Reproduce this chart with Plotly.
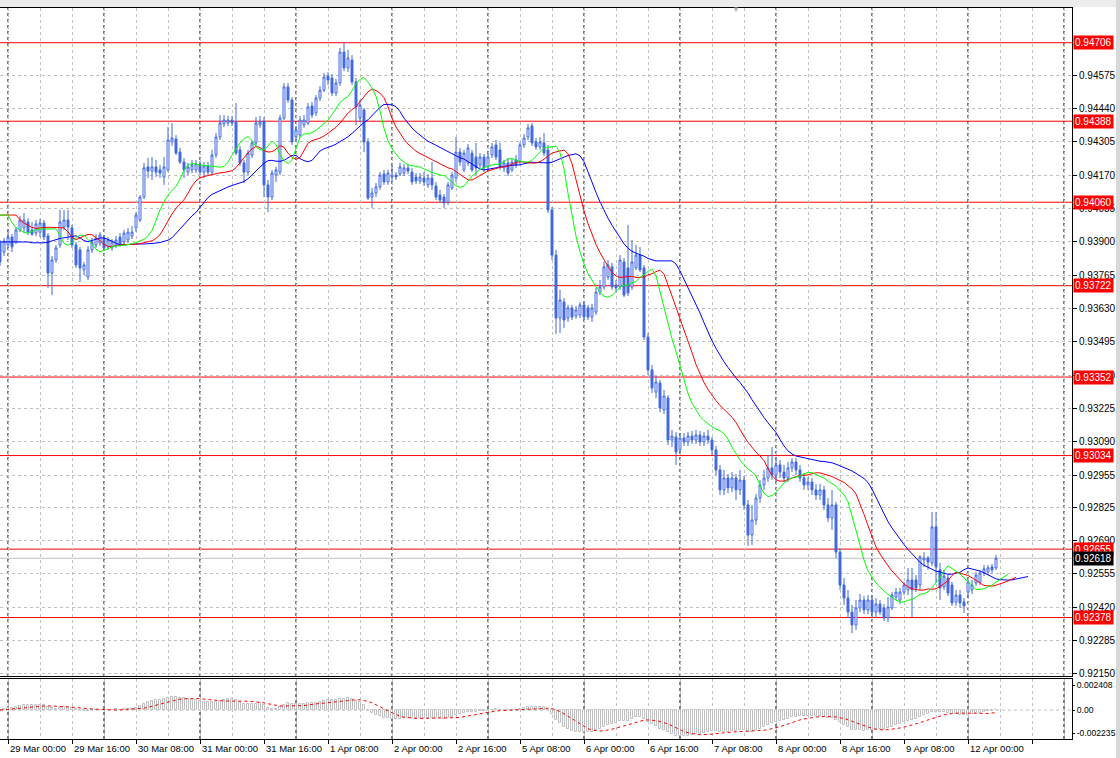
import pandas as pd
import plotly.graph_objects as go

# ---------------- data (H1 bars, prices in points of 0.00001) ----------------
POINT = 0.00001
pre_session = ["2021-03-28 22:00", "2021-03-28 23:00"]
session_days = ["2021-03-29", "2021-03-30", "2021-03-31", "2021-04-01", "2021-04-02",
                "2021-04-05", "2021-04-06", "2021-04-07", "2021-04-08", "2021-04-09",
                "2021-04-12", "2021-04-13"]
first_index = -2          # bar index of the first bar (0 = 29 Mar 00:00)

open_pts = [
    93895, 93858, 93887, 93919, 93899, 93948, 93956, 93980, 93948, 93935,
    93939, 93976, 93923, 93773, 93826, 93887, 93960, 93988, 93956, 93887,
    93867, 93786, 93757, 93867, 93887, 93895, 93915, 93879, 93875, 93887,
    93919, 93899, 93907, 93923, 93956, 93988, 94081, 94203, 94186, 94203,
    94191, 94162, 94191, 94304, 94316, 94263, 94223, 94182, 94191, 94191,
    94211, 94182, 94207, 94182, 94251, 94324, 94377, 94381, 94393, 94385,
    94272, 94219, 94182, 94251, 94300, 94373, 94389, 94130, 94081, 94170,
    94182, 94401, 94527, 94474, 94324, 94332, 94373, 94381, 94450, 94421,
    94482, 94514, 94571, 94563, 94502, 94543, 94668, 94604, 94636, 94547,
    94401, 94434, 94304, 94081, 94097, 94122, 94174, 94142, 94162, 94170,
    94174, 94178, 94199, 94182, 94162, 94146, 94158, 94130, 94158, 94126,
    94089, 94081, 94061, 94118, 94158, 94263, 94191, 94219, 94259, 94243,
    94211, 94243, 94203, 94251, 94292, 94272, 94199, 94219, 94191, 94231,
    94223, 94292, 94324, 94369, 94304, 94284, 94300, 94272, 94029, 93846,
    93591, 93656, 93591, 93632, 93599, 93603, 93644, 93632, 93595, 93615,
    93696, 93717, 93757, 93798, 93725, 93717, 93818, 93794, 93717, 93794,
    93846, 93794, 93514, 93381, 93291, 93328, 93219, 93267, 93097, 93109,
    93057, 93105, 93089, 93113, 93097, 93117, 93089, 93113, 93097, 93057,
    92976, 92895, 92943, 92903, 92943, 92895, 92935, 92834, 92712, 92773,
    92862, 92915, 92943, 92984, 92955, 92996, 92967, 92943, 92984, 93008,
    92976, 92943, 92915, 92927, 92895, 92874, 92895, 92834, 92781, 92834,
    92643, 92510, 92457, 92400, 92348, 92417, 92449, 92409, 92449, 92400,
    92433, 92417, 92376, 92417, 92461, 92449, 92481, 92490, 92530, 92530,
    92510, 92611, 92619, 92599, 92745, 92571, 92502, 92538, 92510, 92441,
    92469, 92441, 92481, 92490, 92518, 92522, 92558, 92562, 92583, 92579,
]
high_pts = [
    93907, 93915, 93948, 93931, 93960, 94004, 94016, 93996, 93980, 93988,
    93992, 93988, 93935, 93842, 93887, 94029, 94029, 94029, 93968, 93899,
    93879, 93818, 93883, 93915, 93931, 93939, 93927, 93919, 93911, 93923,
    93935, 93948, 93956, 93964, 94020, 94089, 94219, 94239, 94243, 94231,
    94211, 94243, 94365, 94381, 94332, 94280, 94239, 94219, 94231, 94231,
    94227, 94223, 94223, 94272, 94340, 94413, 94413, 94409, 94409, 94462,
    94288, 94231, 94272, 94312, 94405, 94409, 94405, 94150, 94191, 94203,
    94413, 94543, 94543, 94486, 94369, 94409, 94413, 94462, 94466, 94494,
    94531, 94583, 94587, 94579, 94559, 94685, 94709, 94677, 94656, 94563,
    94474, 94442, 94320, 94118, 94138, 94182, 94191, 94191, 94211, 94182,
    94219, 94215, 94215, 94199, 94178, 94178, 94182, 94174, 94223, 94142,
    94110, 94093, 94142, 94182, 94324, 94280, 94272, 94296, 94272, 94300,
    94259, 94255, 94259, 94300, 94312, 94300, 94231, 94239, 94239, 94251,
    94304, 94336, 94377, 94381, 94320, 94324, 94340, 94292, 94041, 93867,
    93705, 93672, 93644, 93644, 93640, 93656, 93656, 93644, 93648, 93713,
    93745, 93818, 93826, 93814, 93745, 93846, 93834, 93968, 93907, 93887,
    93879, 93806, 93530, 93401, 93356, 93340, 93300, 93279, 93138, 93129,
    93125, 93125, 93129, 93134, 93138, 93134, 93129, 93138, 93109, 93073,
    92996, 92976, 92959, 92967, 92959, 92976, 92951, 92854, 92834, 92878,
    92935, 92976, 93036, 93069, 93024, 93016, 92996, 93008, 93024, 93024,
    92996, 92963, 92947, 92943, 92919, 92919, 92911, 92862, 92895, 92846,
    92660, 92538, 92490, 92429, 92449, 92473, 92465, 92469, 92465, 92457,
    92449, 92433, 92461, 92481, 92498, 92498, 92522, 92579, 92579, 92550,
    92631, 92643, 92627, 92805, 92805, 92599, 92571, 92550, 92522, 92490,
    92490, 92457, 92530, 92530, 92562, 92571, 92591, 92591, 92595, 92631,
]
low_pts = [
    93802, 93842, 93875, 93858, 93891, 93939, 93935, 93927, 93923, 93923,
    93919, 93907, 93713, 93684, 93814, 93875, 93948, 93907, 93875, 93794,
    93737, 93765, 93745, 93854, 93875, 93883, 93867, 93867, 93863, 93875,
    93879, 93887, 93895, 93911, 93939, 93980, 94073, 94158, 94150, 94162,
    94158, 94130, 94182, 94288, 94251, 94215, 94158, 94170, 94178, 94178,
    94170, 94158, 94170, 94170, 94239, 94312, 94365, 94369, 94369, 94251,
    94207, 94138, 94170, 94239, 94288, 94361, 94081, 94020, 94069, 94142,
    94170, 94393, 94462, 94292, 94304, 94320, 94361, 94373, 94401, 94409,
    94470, 94506, 94535, 94490, 94490, 94531, 94591, 94587, 94535, 94373,
    94385, 94263, 94069, 94037, 94081, 94110, 94130, 94130, 94142, 94150,
    94166, 94166, 94174, 94130, 94134, 94134, 94126, 94118, 94110, 94069,
    94057, 94037, 94049, 94110, 94142, 94207, 94182, 94207, 94182, 94170,
    94199, 94182, 94191, 94239, 94231, 94191, 94182, 94166, 94182, 94199,
    94211, 94280, 94312, 94288, 94272, 94272, 94247, 94016, 93826, 93526,
    93530, 93551, 93575, 93583, 93587, 93591, 93583, 93583, 93575, 93603,
    93684, 93705, 93745, 93705, 93696, 93705, 93676, 93680, 93705, 93786,
    93777, 93502, 93360, 93287, 93267, 93210, 93202, 93077, 93069, 92996,
    93044, 93073, 93073, 93081, 93081, 93073, 93073, 93081, 93036, 92955,
    92874, 92874, 92882, 92886, 92854, 92874, 92814, 92668, 92672, 92753,
    92842, 92895, 92927, 92935, 92927, 92943, 92927, 92927, 92967, 92955,
    92927, 92895, 92895, 92874, 92854, 92854, 92814, 92765, 92733, 92619,
    92490, 92429, 92376, 92315, 92328, 92400, 92392, 92392, 92376, 92376,
    92388, 92364, 92360, 92409, 92449, 92433, 92469, 92469, 92380, 92481,
    92490, 92583, 92571, 92587, 92518, 92449, 92490, 92465, 92425, 92425,
    92417, 92396, 92457, 92473, 92506, 92510, 92546, 92550, 92558, 92571,
]
close_pts = [
    93818, 93903, 93919, 93879, 93948, 93988, 93988, 93939, 93931, 93972,
    93976, 93919, 93773, 93826, 93875, 93980, 93988, 93960, 93887, 93806,
    93794, 93806, 93867, 93899, 93915, 93927, 93875, 93907, 93899, 93907,
    93887, 93935, 93939, 93939, 94008, 94081, 94199, 94186, 94203, 94182,
    94178, 94203, 94312, 94320, 94259, 94223, 94191, 94203, 94211, 94215,
    94182, 94207, 94182, 94251, 94324, 94381, 94393, 94393, 94381, 94259,
    94219, 94182, 94259, 94300, 94381, 94385, 94130, 94081, 94178, 94191,
    94401, 94527, 94474, 94304, 94353, 94393, 94393, 94446, 94413, 94482,
    94514, 94567, 94555, 94502, 94543, 94668, 94604, 94644, 94547, 94446,
    94454, 94304, 94077, 94097, 94122, 94170, 94142, 94178, 94170, 94162,
    94203, 94199, 94186, 94142, 94146, 94162, 94142, 94158, 94130, 94081,
    94069, 94057, 94130, 94170, 94263, 94223, 94259, 94280, 94191, 94199,
    94243, 94199, 94243, 94284, 94243, 94203, 94219, 94178, 94223, 94211,
    94292, 94320, 94361, 94300, 94284, 94304, 94259, 94029, 93846, 93591,
    93664, 93583, 93632, 93595, 93624, 93644, 93595, 93595, 93632, 93696,
    93717, 93798, 93806, 93717, 93713, 93826, 93684, 93692, 93818, 93846,
    93786, 93514, 93381, 93308, 93332, 93227, 93275, 93097, 93113, 93048,
    93105, 93089, 93113, 93097, 93117, 93089, 93113, 93097, 93057, 92976,
    92895, 92943, 92903, 92943, 92895, 92935, 92834, 92712, 92773, 92862,
    92915, 92943, 92984, 92955, 92996, 92967, 92943, 92984, 93008, 92976,
    92943, 92915, 92927, 92895, 92874, 92895, 92834, 92781, 92834, 92643,
    92510, 92457, 92400, 92348, 92417, 92449, 92409, 92449, 92400, 92433,
    92400, 92376, 92421, 92469, 92481, 92481, 92510, 92530, 92490, 92498,
    92623, 92619, 92603, 92745, 92583, 92498, 92546, 92477, 92437, 92469,
    92437, 92425, 92522, 92510, 92550, 92558, 92575, 92579, 92571, 92618,
]

# horizontal levels drawn on the chart
level_prices = [0.94706, 0.94388, 0.94060, 0.93722, 0.93352, 0.93034, 0.92655, 0.92378]
bid_price = 0.92618

# Alligator start values read at the left edge (jaw, teeth, lips)
jaw_start, teeth_start, lips_start = 0.93899, 0.94008, 0.94008

# price-axis labels
price_ticks = ["0.94575", "0.94440", "0.94305", "0.94170", "0.94035", "0.93900", "0.93765",
               "0.93630", "0.93495", "0.93360", "0.93225", "0.93090", "0.92955", "0.92825",
               "0.92690", "0.92555", "0.92420", "0.92285", "0.92150"]
macd_max, macd_min = 0.002408, -0.002235
macd_labels = ["0.002408", "0.00", "-0.002235"]

# ---------------- derived series ----------------
n = min(len(open_pts), len(high_pts), len(low_pts), len(close_pts))
O = [v * POINT for v in open_pts[:n]]
H = [v * POINT for v in high_pts[:n]]
L = [v * POINT for v in low_pts[:n]]
C = [v * POINT for v in close_pts[:n]]
idx = list(range(first_index, first_index + n))

bar_times = pd.to_datetime(pre_session + [f"{d} {h:02d}:00" for d in session_days for h in range(24)])
def time_of(i):
    return bar_times[i - first_index]

median = [(h + l) / 2 for h, l in zip(H, L)]

def smma(values, period, start):
    out, prev = [], start
    for v in values:
        prev = (prev * (period - 1) + v) / period
        out.append(prev)
    return out

def shifted(values, shift, start):
    xs = [first_index + k for k in range(shift)] + [i + shift for i in idx]
    ys = [start] * shift + values
    return xs, ys

jaw_x, jaw_y = shifted(smma(median, 13, jaw_start), 8, jaw_start)
teeth_x, teeth_y = shifted(smma(median, 8, teeth_start), 5, teeth_start)
lips_x, lips_y = shifted(smma(median, 5, lips_start), 3, lips_start)

cs = pd.Series(C)
macd = (cs.ewm(span=12, adjust=False).mean() - cs.ewm(span=26, adjust=False).mean())
signal = macd.rolling(9, min_periods=1).mean()

# ---------------- figure ----------------
BLUE = "#4169E1"
GRID = "#C0C0C0"
FAMILY = "Liberation Sans, Arial, sans-serif"
PRICE_FONT = dict(family=FAMILY, size=10, color="black")
MACD_FONT = dict(family=FAMILY, size=8.6, color="black")

fig = go.Figure()
fig.add_trace(go.Candlestick(
    x=idx, open=O, high=H, low=L, close=C,
    increasing=dict(line=dict(color=BLUE, width=1), fillcolor="white"),
    decreasing=dict(line=dict(color=BLUE, width=1), fillcolor=BLUE),
    whiskerwidth=0, showlegend=False, hoverinfo="skip", xaxis="x", yaxis="y"))
fig.add_trace(go.Scatter(x=jaw_x, y=jaw_y, mode="lines", line=dict(color="#0000FF", width=1),
                         showlegend=False, hoverinfo="skip"))
fig.add_trace(go.Scatter(x=teeth_x, y=teeth_y, mode="lines", line=dict(color="#FF0000", width=1),
                         showlegend=False, hoverinfo="skip"))
fig.add_trace(go.Scatter(x=lips_x, y=lips_y, mode="lines", line=dict(color="#00FF00", width=1),
                         showlegend=False, hoverinfo="skip"))

fig.add_trace(go.Bar(x=idx, y=list(macd), width=0.6, xaxis="x2", yaxis="y2",
                     marker=dict(color="white", line=dict(color=GRID, width=1)),
                     showlegend=False, hoverinfo="skip"))
fig.add_trace(go.Scatter(x=idx, y=list(signal), mode="lines", xaxis="x2", yaxis="y2",
                         line=dict(color="#FF0000", width=1, dash="3px,3px"),
                         showlegend=False, hoverinfo="skip"))

PLOT_H = 758 - 8 - 19
main_bottom = (739 - 676) / PLOT_H
sub_top = (739 - 679) / PLOT_H
sub_px = 739 - 679

x_range = [first_index, 266]
y_top = 0.948466
y_bot = 0.921412
macd_range = [macd_min, macd_max]
# labels of the indicator pane sit ~6 px inside its edges
inset = 6 * (macd_max - macd_min) / sub_px
macd_tickvals = [macd_max - inset, 0.0, macd_min + inset]

axis_common = dict(showline=True, linecolor="black", linewidth=1, mirror=True, zeroline=False,
                   automargin=False)

fig.update_layout(
    width=1120, height=758,
    margin=dict(l=0, r=48, t=8, b=19, autoexpand=False),
    paper_bgcolor="white", plot_bgcolor="white",
    showlegend=False, bargap=0,
    xaxis=dict(domain=[0, 1], anchor="y", range=x_range, showticklabels=False, ticks="",
               tickmode="linear", tick0=0, dtick=16,
               showgrid=True, gridcolor=GRID, griddash="3px,3px", gridwidth=1,
               minor=dict(tick0=0, dtick=8, showgrid=True, gridcolor=GRID, griddash="3px,3px", ticks=""),
               rangeslider=dict(visible=False), **axis_common),
    yaxis=dict(domain=[main_bottom, 1], anchor="x", range=[y_bot, y_top], side="right",
               tickmode="array", tickvals=[float(t) for t in price_ticks], ticktext=price_ticks,
               ticks="outside", ticklen=4, tickcolor="black", tickfont=PRICE_FONT,
               showgrid=True, gridcolor=GRID, griddash="3px,3px", gridwidth=1, **axis_common),
    xaxis2=dict(domain=[0, 1], anchor="y2", range=x_range, matches="x", showticklabels=False,
                tickmode="linear", tick0=0, dtick=16, ticks="outside", ticklen=4, tickcolor="black",
                showgrid=True, gridcolor=GRID, griddash="3px,3px", gridwidth=1,
                minor=dict(tick0=0, dtick=8, showgrid=True, gridcolor=GRID, griddash="3px,3px", ticks=""),
                **axis_common),
    yaxis2=dict(domain=[0, sub_top], anchor="x2", range=macd_range, side="right",
                tickmode="array", tickvals=macd_tickvals, ticktext=macd_labels,
                ticks="outside", ticklen=2, tickcolor="black", tickfont=MACD_FONT,
                showgrid=False, **axis_common),
)

shapes = []
# day separators (black dashed), through both panes
for i in range(first_index, int(x_range[1]) + 1):
    if time_of(i).hour == 0:
        for yref in ("y domain", "y2 domain"):
            shapes.append(dict(type="line", xref="x", yref=yref, x0=i, x1=i, y0=0, y1=1,
                               line=dict(color="black", width=1, dash="3px,3px"), layer="below"))
# zero line in indicator pane
shapes.append(dict(type="line", xref="x2 domain", yref="y2", x0=0, x1=1, y0=0, y1=0,
                   line=dict(color=GRID, width=1, dash="3px,3px"), layer="below"))
# horizontal levels
for p in level_prices:
    shapes.append(dict(type="line", xref="x domain", yref="y", x0=0, x1=1, y0=p, y1=p,
                       line=dict(color="#FF0000", width=1), layer="below"))
shapes.append(dict(type="line", xref="x domain", yref="y", x0=0, x1=1, y0=bid_price, y1=bid_price,
                   line=dict(color=GRID, width=1), layer="below"))
# window frame bits
shapes.append(dict(type="rect", xref="paper", yref="paper", x0=-0.01, x1=1.05,
                   y0=1 + 1 / PLOT_H, y1=1 + 8 / PLOT_H, fillcolor="#ECECEC", line=dict(width=0)))
shapes.append(dict(type="rect", xref="paper", yref="paper", x0=1116 / 1072, x1=1121 / 1072,
                   y0=-19 / PLOT_H, y1=1 + 8 / PLOT_H, fillcolor="#D8D8D8", line=dict(width=0)))
fig.update_layout(shapes=shapes)

annotations = []
# price level labels
for p in level_prices:
    annotations.append(dict(xref="paper", x=1, xanchor="left", xshift=1, yref="y", y=p,
                            text=f"{p:.5f}", showarrow=False, bgcolor="#FF0000",
                            font=dict(family=FAMILY, size=10, color="white"), borderpad=1))
annotations.append(dict(xref="paper", x=1, xanchor="left", xshift=1, yref="y", y=bid_price,
                        text=f"{bid_price:.5f}", showarrow=False, bgcolor="black",
                        font=dict(family=FAMILY, size=10, color="white"), borderpad=1))
# time labels every 16 bars
for i in range(0, idx[-1] + 1, 16):
    t = time_of(i)
    annotations.append(dict(xref="x2", x=i, xanchor="left", xshift=0, yref="paper", y=0,
                            yanchor="top", yshift=-2, showarrow=False,
                            text=f"{t.day} {t.strftime('%b %H:%M')}",
                            font=dict(family=FAMILY, size=9.5, color="black")))
# chart shift marker
annotations.append(dict(xref="paper", x=742 / 1072, yref="paper", y=1, yanchor="middle",
                        text="▼", showarrow=False, font=dict(size=8, color="#B0B0B0")))
fig.update_layout(annotations=annotations)

fig.write_html("out.html", config={"displayModeBar": False},
               post_script="document.body.style.margin='0';document.body.style.overflow='hidden';")
